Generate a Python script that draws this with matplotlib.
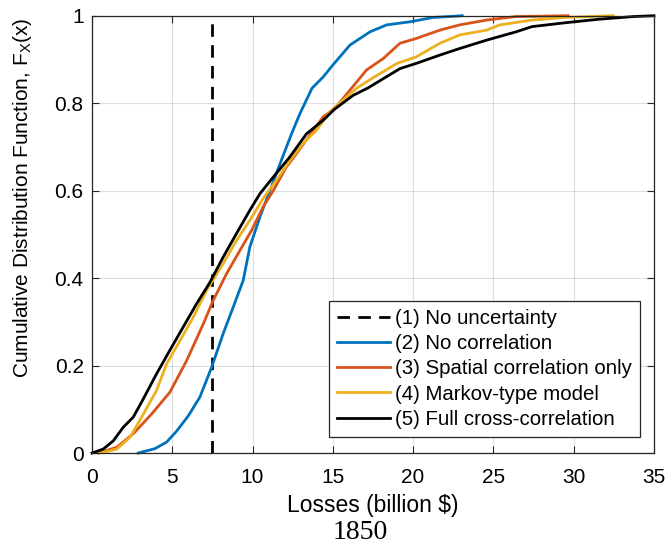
import numpy as np
import matplotlib
matplotlib.use('Agg')
import matplotlib.pyplot as plt

plt.rcParams['font.family'] = ['Liberation Sans', 'DejaVu Sans']
plt.rcParams['mathtext.fontset'] = 'custom'
plt.rcParams['mathtext.rm'] = 'Liberation Sans'
plt.rcParams['mathtext.it'] = 'Liberation Sans:italic'

# deterministic loss (no uncertainty)
noUncertainty = 7.5

# (2) no correlation
x2 = [2.88, 3.92, 4.65, 5.27, 6.0, 6.72, 7.45, 8.17, 8.8, 9.42, 9.83, 10.46, 11.08, 11.8,
      12.43, 12.95, 13.7, 14.4, 14.95, 16.07, 17.31, 18.35, 19.8, 21.25, 23.06]
y2 = [0.0, 0.01, 0.025, 0.05, 0.085, 0.128, 0.196, 0.273, 0.334, 0.395, 0.471, 0.54, 0.60, 0.67,
      0.73, 0.776, 0.834, 0.86, 0.885, 0.933, 0.963, 0.979, 0.986, 0.996, 1.0]

# (3) spatial correlation only
x3 = [0.4, 1.54, 2.57, 3.71, 4.85, 5.89, 6.93, 7.55, 8.38, 9.21, 9.94, 10.66, 11.29, 12.1,
      12.74, 13.57, 14.4, 15.1, 16.07, 17.1, 18.14, 19.18, 20.2, 21.67, 22.9, 24.57, 26.4, 29.65]
y3 = [0.0, 0.013, 0.044, 0.089, 0.139, 0.211, 0.295, 0.349, 0.41, 0.463, 0.509, 0.563, 0.60, 0.654,
      0.685, 0.727, 0.769, 0.787, 0.83, 0.876, 0.902, 0.937, 0.948, 0.967, 0.979, 0.99, 0.998, 1.0]

# (4) Markov-type model
x4 = [0.5, 1.54, 2.37, 3.2, 4.02, 4.65, 5.48, 6.3, 7.14, 8.17, 9.0, 9.83, 10.66, 11.49, 12.32,
      13.15, 13.98, 14.8, 15.64, 16.47, 17.5, 19.0, 20.2, 21.67, 22.9, 24.57, 25.4, 27.4, 29.5, 32.46]
y4 = [0.0, 0.009, 0.036, 0.089, 0.143, 0.204, 0.257, 0.31, 0.372, 0.433, 0.486, 0.532, 0.582, 0.624, 0.669,
      0.708, 0.738, 0.78, 0.807, 0.834, 0.858, 0.891, 0.906, 0.937, 0.956, 0.967, 0.979, 0.99, 0.996, 1.0]

# (5) full cross-correlation
x5 = [0.0, 0.7, 1.33, 1.95, 2.57, 3.2, 4.02, 4.85, 5.68, 6.51, 7.34, 8.17, 9.0, 9.83, 10.46, 11.29,
      12.32, 13.36, 14.4, 15.1, 16.27, 17.2, 18.14, 19.18, 20.2, 21.67, 22.9, 24.57, 26.4, 27.4, 29.5,
      31.6, 33.7, 35.0]
y5 = [0.0, 0.009, 0.028, 0.059, 0.082, 0.124, 0.181, 0.235, 0.288, 0.341, 0.39, 0.448, 0.502, 0.555, 0.593, 0.631,
      0.677, 0.73, 0.761, 0.786, 0.818, 0.835, 0.856, 0.879, 0.891, 0.91, 0.925, 0.944, 0.963, 0.975, 0.984,
      0.992, 0.998, 1.0]

labels = ['(1) No uncertainty', '(2) No correlation', '(3) Spatial correlation only',
          '(4) Markov-type model', '(5) Full cross-correlation']
colors = ['#0072BD', '#D95319', '#EDB120', 'black']

fig = plt.figure(figsize=(6.68, 5.47), dpi=100)
ax = fig.add_axes([0.1377, 0.1718, 0.8413, 0.7995])

ax.plot([noUncertainty, noUncertainty], [0, 1], color='black', lw=2, dashes=(4.5, 3), label=labels[0])
for xs, ys, c, lab in zip([x2, x3, x4, x5], [y2, y3, y4, y5], colors, labels[1:]):
    ax.plot(xs, ys, color=c, lw=2, label=lab, clip_on=False)

ax.set_xlim(0, 35)
ax.set_ylim(0, 1)
ax.set_xticks(np.arange(0, 36, 5))
ax.set_yticks([0, 0.2, 0.4, 0.6, 0.8, 1])
ax.set_yticklabels(['0', '0.2', '0.4', '0.6', '0.8', '1'])
ax.grid(True, color='#262626', alpha=0.15, lw=0.8)
ax.tick_params(direction='in', top=True, right=True, labelsize=15, colors='#262626',
               labelcolor='black', length=5, width=0.8)
ax.tick_params(axis='x', pad=11)
ax.tick_params(axis='y', pad=6)
for s in ax.spines.values():
    s.set_color('#262626')
    s.set_linewidth(0.9)

ax.set_xlabel('Losses (billion $)', fontsize=16.5, labelpad=5)
ax.set_ylabel(r'Cumulative Distribution Function, F$_\mathrm{X}$(x)', fontsize=15)
ax.yaxis.set_label_coords(-0.103, 0.584)

leg = ax.legend(loc='lower right', bbox_to_anchor=(0.976, 0.037), fontsize=14.7,
                fancybox=False, framealpha=1, edgecolor='#262626', handlelength=2.6,
                handletextpad=0.25, borderpad=0.4, labelspacing=0.3, borderaxespad=0)
leg.get_frame().set_linewidth(0.9)

fig.text(0.539, 0.015, '1850', family='Liberation Serif', fontsize=20, ha='center', va='baseline')

fig.savefig('out.png', dpi=100)
